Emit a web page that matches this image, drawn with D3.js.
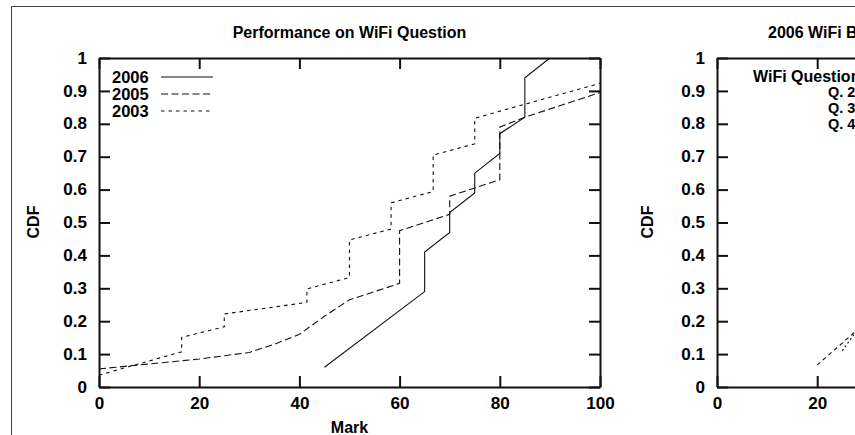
<!DOCTYPE html>
<html>
<head>
<meta charset="utf-8">
<script src="https://cdn.jsdelivr.net/npm/d3@7"></script>
<style>
  body { margin: 0; background: #fff; }
  svg { display: block; }
  text { font-family: "Liberation Sans", Arial, Helvetica, sans-serif; font-weight: bold; fill: #000; }
</style>
</head>
<body>
<svg id="chart" width="855" height="435"></svg>
<script>
// ---------- data ----------
const leftTitle = "Performance on WiFi Question";
const rightTitle = "2006 WiFi Breakdown by Question";
const xLabel = "Mark";
const yLabel = "CDF";
const years = ["2006", "2005", "2003"];

const mark2006 = [45, 65, 65, 70, 70, 75, 75, 80, 80, 85, 85, 90];
const cdf2006  = [0.06, 0.29, 0.41, 0.47, 0.53, 0.59, 0.65, 0.71, 0.77, 0.82, 0.94, 1.0];

const mark2005 = [0, 10, 20, 30, 35, 40, 45, 50, 55, 60, 60, 65, 70, 70, 75, 80, 80, 85, 90, 100];
const cdf2005  = [0.055, 0.07, 0.085, 0.105, 0.13, 0.16, 0.215, 0.265, 0.29, 0.315, 0.475, 0.5, 0.525, 0.58, 0.605, 0.63, 0.79, 0.82, 0.845, 0.895];

const mark2003 = [0, 16.5, 16.5, 25, 25, 41.5, 41.5, 50, 50, 58.3, 58.3, 66.7, 66.7, 75, 75, 100];
const cdf2003  = [0.036, 0.107, 0.151, 0.183, 0.222, 0.257, 0.298, 0.333, 0.447, 0.48, 0.56, 0.594, 0.705, 0.739, 0.817, 0.923];

const rightLegendTitle = "WiFi Question";
const questions = ["Q. 2", "Q. 3", "Q. 4"];
const markQ2 = [20, 30];
const cdfQ2  = [0.067, 0.2];
const markQ3 = [25, 30];
const cdfQ3  = [0.11, 0.215];

const xTicks = [0, 20, 40, 60, 80, 100];
const yTicks = [0, 0.1, 0.2, 0.3, 0.4, 0.5, 0.6, 0.7, 0.8, 0.9, 1];

// ---------- drawing ----------
const W = 855;
const svg = d3.select("#chart");
const ink = "#111";
const stretch = 1.07;

// outer frame
svg.append("rect").attr("x", 11.5).attr("y", 6.5).attr("width", 1000).attr("height", 600)
  .attr("fill", "none").attr("stroke", "#444").attr("stroke-width", 1);

const yScale = d3.scaleLinear().domain([0, 1]).range([387, 58]);
const yFmt = d => d === 0 ? "0" : d === 1 ? "1" : d3.format(".1f")(d);

function panel(x0, title, titleX, titleAnchor, cdfX) {
  const x = d3.scaleLinear().domain([0, 100]).range([x0, x0 + 501]);
  const visTicks = xTicks.filter(t => x(t) < W - 12);
  const g = svg.append("g");
  const style = sel => {
    sel.selectAll("path.domain").attr("stroke", ink).attr("stroke-width", 2);
    sel.selectAll(".tick line").attr("stroke", ink).attr("stroke-width", 2);
    sel.selectAll(".tick text").attr("font-size", 16).attr("font-family", "Liberation Sans, Arial, sans-serif")
      .attr("font-weight", "bold").attr("fill", "#000")
      .attr("x", function () { return (+d3.select(this).attr("x") || 0) / stretch; })
      .attr("transform", `scale(${stretch},1)`);
  };
  g.append("g").attr("transform", `translate(0,${yScale(0)})`)
    .call(d3.axisBottom(x).tickValues(visTicks).tickFormat(d3.format("d")).tickSizeInner(-11).tickSizeOuter(0).tickPadding(11))
    .call(style);
  g.append("g").attr("transform", `translate(0,${yScale(1)})`)
    .call(d3.axisTop(x).tickValues(visTicks).tickFormat("").tickSizeInner(-11).tickSizeOuter(0))
    .call(style);
  g.append("g").attr("transform", `translate(${x(0)},0)`)
    .call(d3.axisLeft(yScale).tickValues(yTicks).tickFormat(yFmt).tickSizeInner(-11).tickSizeOuter(0).tickPadding(12))
    .call(style);
  g.append("g").attr("transform", `translate(${x(100)},0)`)
    .call(d3.axisRight(yScale).tickValues(yTicks).tickFormat("").tickSizeInner(-11).tickSizeOuter(0))
    .call(style);

  svg.append("text").attr("x", titleX).attr("y", 32).attr("dy", "0.35em")
    .attr("text-anchor", titleAnchor).attr("font-size", 16).text(title);
  svg.append("text").attr("transform", `translate(${cdfX},222) rotate(-90)`)
    .attr("text-anchor", "middle").attr("dy", "0.35em").attr("font-size", 16).text(yLabel);
  return x;
}

const xL = panel(99, leftTitle, 349.5, "middle", 33.5);
const xR = panel(717, rightTitle, 768, "start", 647.5);

svg.append("text").attr("x", (xL(0) + xL(100)) / 2).attr("y", 433)
  .attr("text-anchor", "middle").attr("font-size", 16).text(xLabel);

const dashes = ["none", "7,3.5", "3.5,4"];

function drawLine(xs, marks, cdfs, dash) {
  const pts = marks.map((m, i) => [m, cdfs[i]]);
  svg.append("path").datum(pts)
    .attr("d", d3.line().x(d => xs(d[0])).y(d => yScale(d[1])))
    .attr("fill", "none").attr("stroke", ink).attr("stroke-width", 1.1)
    .attr("stroke-dasharray", dash);
}

drawLine(xL, mark2006, cdf2006, dashes[0]);
drawLine(xL, mark2005, cdf2005, dashes[1]);
drawLine(xL, mark2003, cdf2003, dashes[2]);

drawLine(xR, markQ2, cdfQ2, "4,3.5");
drawLine(xR, markQ3, cdfQ3, "2,2.5");

// left legend
years.forEach((yr, i) => {
  const yy = 77 + i * 17;
  svg.append("text").attr("x", 112).attr("y", yy).attr("dy", "0.35em")
    .attr("font-size", 16.5).text(yr);
  svg.append("line").attr("x1", 161).attr("x2", 213).attr("y1", yy).attr("y2", yy)
    .attr("stroke", ink).attr("stroke-width", 1.1).attr("stroke-dasharray", dashes[i]);
});

// right legend
svg.append("text").attr("x", 753).attr("y", 76).attr("dy", "0.35em")
  .attr("font-size", 16).text(rightLegendTitle);
questions.forEach((q, i) => {
  svg.append("text").attr("x", 828).attr("y", 92 + i * 16).attr("dy", "0.35em")
    .attr("font-size", 14.5).text(q);
});
</script>
</body>
</html>
